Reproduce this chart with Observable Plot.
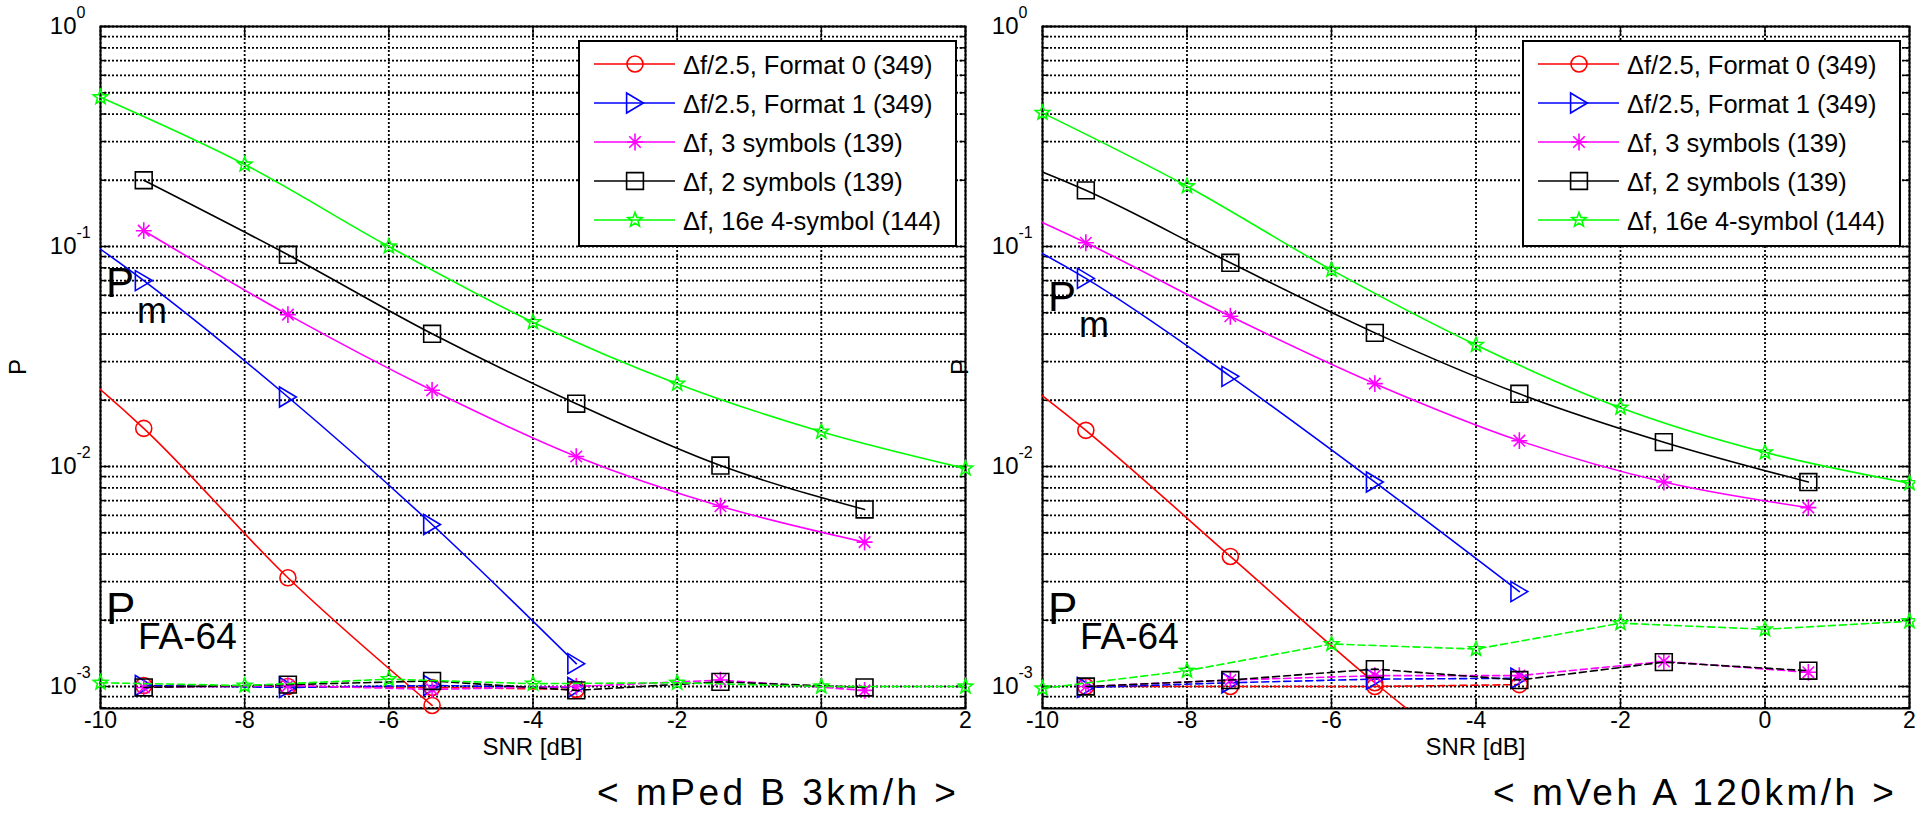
<!DOCTYPE html>
<html><head><meta charset="utf-8">
<script src="https://cdn.jsdelivr.net/npm/d3@7"></script>
<script src="https://cdn.jsdelivr.net/npm/@observablehq/plot@0.6"></script>
<style>
html,body{margin:0;padding:0;background:#fff;}
#wrap{position:relative;width:1915px;height:813px;overflow:hidden;background:#fff;}
#wrap > svg{position:absolute;top:0;}
</style></head>
<body><div id="wrap"></div>
<script>
const FONT = '"Liberation Sans", Arial, Helvetica, sans-serif';

// ---------- data ----------
const seriesNames = ["Δf/2.5, Format 0 (349)", "Δf/2.5, Format 1 (349)", "Δf, 3 symbols (139)", "Δf, 2 symbols (139)", "Δf, 16e 4-symbol (144)"];
const seriesColors = ["#ff0000", "#0000ff", "#ff00ff", "#000000", "#00ff00"];
const panelTitles = ["< mPed B 3km/h >", "< mVeh A 120km/h >"];
const xLabel = "SNR [dB]";
const yLabel = "P";

const snrOffset = [-11.4, -9.4, -7.4, -5.4, -3.4, -1.4, 0.6];
const snrGrid = [-10, -8, -6, -4, -2, 0, 2];
const xTickValues = [-10, -8, -6, -4, -2, 0, 2];

// mPed B 3km/h — miss probability Pm
const pedPmFmt0 = [0.0526, 0.0149, 0.00312, 0.00082];
const pedPmFmt1 = [0.2, 0.070, 0.0207, 0.00545, 0.00127];
const pedPm3sym = [null, 0.118, 0.049, 0.0222, 0.0111, 0.0066, 0.00453];
const pedPm2sym = [null, 0.2, 0.0917, 0.0401, 0.0193, 0.0101, 0.00638];
const pedPm16e  = [0.477, 0.236, 0.1, 0.0453, 0.0238, 0.0144, 0.0098];
// mPed B 3km/h — false alarm P_FA-64
const pedFaFmt0 = [null, 0.00101, 0.001, 0.00099, 0.00097];
const pedFaFmt1 = [null, 0.00101, 0.00099, 0.00101, 0.00099];
const pedFa3sym = [null, 0.00099, 0.00101, 0.00097, 0.001, 0.00107, 0.00096];
const pedFa2sym = [null, 0.00099, 0.00102, 0.00106, 0.00096, 0.00105, 0.00099];
const pedFa16e  = [0.00104, 0.00101, 0.00108, 0.00103, 0.00104, 0.001, 0.001];

// mVeh A 120km/h — miss probability Pm
const vehPmFmt0 = [0.0465, 0.0146, 0.0039, 0.00104, 0.00032];
const vehPmFmt1 = [0.159, 0.0716, 0.0257, 0.0085, 0.0027];
const vehPm3sym = [0.206, 0.104, 0.0482, 0.0238, 0.0131, 0.0085, 0.0065];
const vehPm2sym = [0.326, 0.18, 0.0843, 0.0405, 0.0214, 0.0129, 0.0085];
const vehPm16e  = [0.405, 0.188, 0.0783, 0.0357, 0.0185, 0.0116, 0.0084];
// mVeh A 120km/h — false alarm P_FA-64
const vehFaFmt0 = [null, 0.001, 0.001, 0.001, 0.00102];
const vehFaFmt1 = [null, 0.00099, 0.00104, 0.00108, 0.00109];
const vehFa3sym = [null, 0.001, 0.00107, 0.00112, 0.00112, 0.0013, 0.00116];
const vehFa2sym = [null, 0.001, 0.00107, 0.0012, 0.00107, 0.00129, 0.00118];
const vehFa16e  = [0.00098, 0.00118, 0.00156, 0.00148, 0.00194, 0.00182, 0.00198];

const seriesX = [snrOffset, snrOffset, snrOffset, snrOffset, snrGrid];
const panels = [
  {pm: [pedPmFmt0, pedPmFmt1, pedPm3sym, pedPm2sym, pedPm16e], fa: [pedFaFmt0, pedFaFmt1, pedFa3sym, pedFa2sym, pedFa16e]},
  {pm: [vehPmFmt0, vehPmFmt1, vehPm3sym, vehPm2sym, vehPm16e], fa: [vehFaFmt0, vehFaFmt1, vehFa3sym, vehFa2sym, vehFa16e]}
];

// ---------- symbols ----------
const rad = s => Math.sqrt(s / Math.PI);
const symCircle = {draw(c, s){ const r = rad(s); c.moveTo(r, 0); c.arc(0, 0, r, 0, 2*Math.PI); }};
const symTriRight = {draw(c, s){ const r = rad(s); c.moveTo(-1.05*r, -1.25*r); c.lineTo(1.05*r, 0); c.lineTo(-1.05*r, 1.25*r); c.closePath(); }};
const symAsterisk = {draw(c, s){ const r = rad(s); const a = r*1.05, b = r*0.72;
  c.moveTo(0,-a); c.lineTo(0,a); c.moveTo(-a*0.95,0); c.lineTo(a*0.95,0);
  c.moveTo(-b,-b); c.lineTo(b,b); c.moveTo(-b,b); c.lineTo(b,-b); }};
const symSquare = {draw(c, s){ const r = rad(s)*1.05; c.moveTo(-r,-r); c.lineTo(r,-r); c.lineTo(r,r); c.lineTo(-r,r); c.closePath(); }};
const symStar = {draw(c, s){ const R = rad(s)*0.95, ri = R*0.42;
  for (let k = 0; k < 10; k++) { const ang = -Math.PI/2 + k*Math.PI/5; const rr = k % 2 ? ri : R;
    const px = rr*Math.cos(ang), py = rr*Math.sin(ang); if (k) c.lineTo(px, py); else c.moveTo(px, py); }
  c.closePath(); }};
const seriesSymbols = [symCircle, symTriRight, symAsterisk, symSquare, symStar];

const tickSym = (dx, dy) => ({draw(c){ c.moveTo(0,0); c.lineTo(dx, dy); }});

// ---------- plots ----------
const yMin = Math.pow(10, -3.1), yMax = 1;
const yMajor = [1, 0.1, 0.01, 0.001];
const yGrid = [];
for (let e = -4; e < 0; e++) for (let m = 1; m <= 9; m++) { const v = m * Math.pow(10, e); if (v >= yMin * 0.999 && v <= 1) yGrid.push(v); }
yGrid.push(1);
const yMinor = yGrid.filter(v => !yMajor.some(M => Math.abs(M - v) < 1e-12));

function rows(values, xs) { return values.map((v, i) => ({snr: xs[i], p: v})).filter(d => d.p != null); }
const visible = d => d.snr >= -10 && d.snr <= 2 && d.p >= yMin && d.p <= yMax;

function makePanel(pd, left, width, marginLeft, marginRight) {
  const marks = [
    Plot.ruleY(yGrid, {y: d => d, stroke: "black", strokeWidth: 1.8, strokeDasharray: "2,2"}),
    Plot.ruleX(xTickValues, {x: d => d, stroke: "black", strokeWidth: 1.8, strokeDasharray: "2,2"}),
    Plot.frame({stroke: "black", strokeWidth: 2}),
    Plot.dot(xTickValues, {x: d => d, frameAnchor: "bottom", symbol: tickSym(0, -9), stroke: "black", strokeWidth: 1.5, fill: "none"}),
    Plot.dot(xTickValues, {x: d => d, frameAnchor: "top", symbol: tickSym(0, 9), stroke: "black", strokeWidth: 1.5, fill: "none"}),
    Plot.dot(yMajor, {y: d => d, frameAnchor: "left", symbol: tickSym(10, 0), stroke: "black", strokeWidth: 1.5, fill: "none"}),
    Plot.dot(yMajor, {y: d => d, frameAnchor: "right", symbol: tickSym(-10, 0), stroke: "black", strokeWidth: 1.5, fill: "none"}),
    Plot.dot(yMinor, {y: d => d, frameAnchor: "left", symbol: tickSym(6, 0), stroke: "black", strokeWidth: 1.5, fill: "none"}),
    Plot.dot(yMinor, {y: d => d, frameAnchor: "right", symbol: tickSym(-6, 0), stroke: "black", strokeWidth: 1.5, fill: "none"}),
    Plot.text(yMajor, {y: d => d, text: () => "10", frameAnchor: "left", textAnchor: "end", dx: -24, fontSize: 24, fill: "black"}),
    Plot.text(yMajor, {y: d => d, text: d => String(Math.round(Math.log10(d))), frameAnchor: "left", textAnchor: "start", dx: -24, dy: -14, fontSize: 16, fill: "black"})
  ];
  for (let s = 0; s < 5; s++) {
    const pm = rows(pd.pm[s], seriesX[s]);
    const fa = rows(pd.fa[s], seriesX[s]);
    marks.push(Plot.line(pm, {x: "snr", y: "p", stroke: seriesColors[s], strokeWidth: 1.6, curve: "monotone-x", clip: true}));
    marks.push(Plot.line(fa, {x: "snr", y: "p", stroke: seriesColors[s], strokeWidth: 1.6, strokeDasharray: "7,4", clip: true}));
    marks.push(Plot.dot(pm.filter(visible), {x: "snr", y: "p", symbol: seriesSymbols[s], r: 8, stroke: seriesColors[s], strokeWidth: 1.6, fill: "none"}));
    marks.push(Plot.dot(fa.filter(visible), {x: "snr", y: "p", symbol: seriesSymbols[s], r: 8, stroke: seriesColors[s], strokeWidth: 1.6, fill: "none"}));
  }
  const svg = Plot.plot({
    width, height: 813,
    marginLeft, marginRight, marginTop: 26, marginBottom: 105,
    style: {background: "transparent", overflow: "visible", fontFamily: FONT, fontSize: "23px", color: "black"},
    x: {type: "linear", domain: [-10, 2], ticks: xTickValues, tickSize: 0, tickPadding: 3, tickFormat: d => String(d), label: null},
    y: {type: "log", domain: [yMin, yMax], axis: null},
    marks
  });
  svg.style.left = left + "px";
  document.getElementById("wrap").appendChild(svg);
}

makePanel(panels[0], 0, 980, 100, 15);
makePanel(panels[1], 930, 985, 112, 6);

// ---------- overlay: labels, annotations, legends ----------
const ov = d3.select("#wrap").append("svg")
  .attr("width", 1915).attr("height", 813)
  .style("position", "absolute").style("left", "0px").style("top", "0px")
  .style("font-family", FONT).style("pointer-events", "none");

const frames = [{l: 100, r: 965, pmDy: 0}, {l: 1042, r: 1909, pmDy: 14}];
frames.forEach((f, k) => {
  const cx = (f.l + f.r) / 2;
  ov.append("text").attr("transform", `translate(${f.l - 83},367) rotate(-90)`)
    .attr("text-anchor", "middle").attr("dominant-baseline", "central").attr("font-size", 24).text(yLabel);
  ov.append("text").attr("x", cx).attr("y", 755).attr("text-anchor", "middle").attr("font-size", 24).text(xLabel);
  ov.append("text").attr("x", k === 0 ? 597 : 1493).attr("y", 805).attr("font-size", 37)
    .style("letter-spacing", "3.5px").text(panelTitles[k]);
  // P_m
  ov.append("text").attr("x", f.l + 6).attr("y", 297 + f.pmDy).attr("font-size", 42).text("P");
  ov.append("text").attr("x", f.l + 37).attr("y", 323 + f.pmDy).attr("font-size", 36).text("m");
  // P_FA-64
  ov.append("text").attr("x", f.l + 6).attr("y", 624).attr("font-size", 44).text("P");
  ov.append("text").attr("x", f.l + 38).attr("y", 649).attr("font-size", 37).text("FA-64");
  // legend
  const bx = f.r - 386;
  const g = ov.append("g");
  g.append("rect").attr("x", bx).attr("y", 41).attr("width", 377).attr("height", 205)
    .attr("fill", "white").attr("stroke", "black").attr("stroke-width", 2);
  seriesNames.forEach((name, i) => {
    const yy = 64 + i * 39;
    g.append("line").attr("x1", bx + 15).attr("x2", bx + 96).attr("y1", yy).attr("y2", yy)
      .attr("stroke", seriesColors[i]).attr("stroke-width", 1.6);
    g.append("path").attr("d", d3.symbol(seriesSymbols[i], Math.PI * 64)())
      .attr("transform", `translate(${bx + 56},${yy})`)
      .attr("fill", "none").attr("stroke", seriesColors[i]).attr("stroke-width", 1.6);
    g.append("text").attr("x", bx + 104).attr("y", yy + 10).attr("font-size", 25.5).text(name);
  });
});
</script>
</body></html>
